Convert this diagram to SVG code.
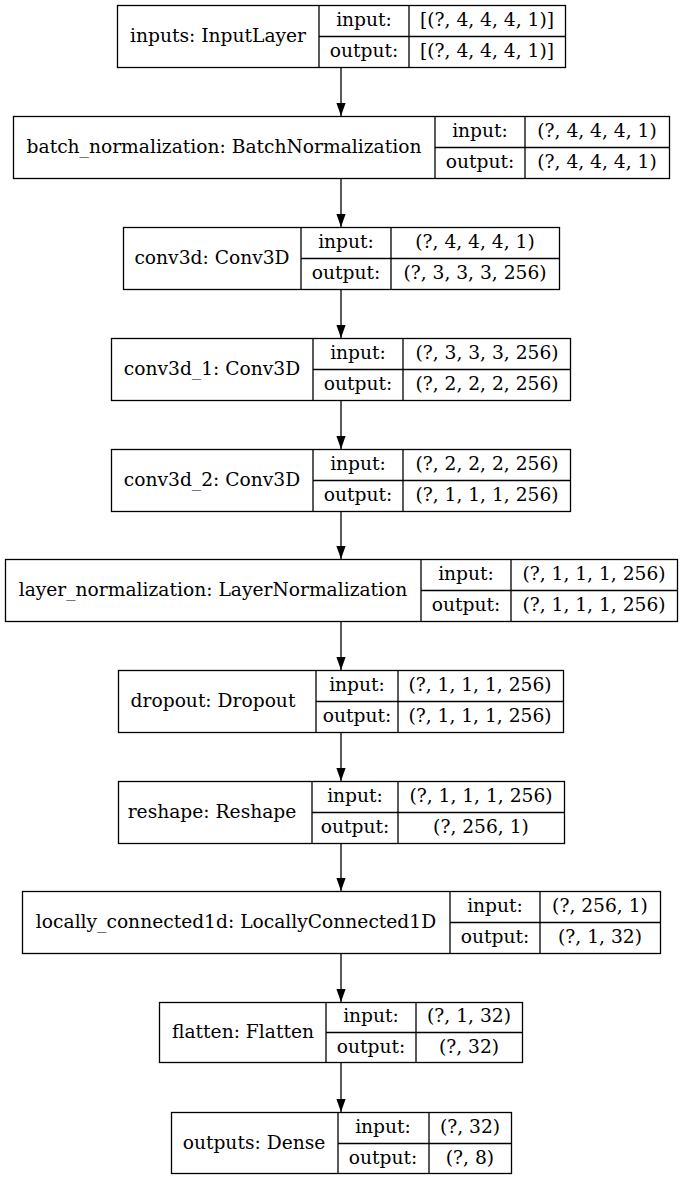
<svg xmlns="http://www.w3.org/2000/svg" width="683" height="1180" viewBox="0 0 683 1180">
<style>
rect.b{fill:none;stroke:#000;stroke-width:1.3}
line.d{stroke:#000;stroke-width:1.3}
text{font-family:"DejaVu Serif","Liberation Serif",serif;font-size:18.67px;fill:#000;text-anchor:middle}
.e line{stroke:#000;stroke-width:1.3}
</style>
<defs>
<marker id="ah" markerWidth="14" markerHeight="10" refX="13" refY="5" orient="auto" markerUnits="userSpaceOnUse">
<path d="M0,0.4 L13,5 L0,9.6 Z" fill="#000"/>
</marker>
</defs>
<rect width="683" height="1180" fill="#fff"/>
<g class="e">
<line x1="341" y1="67" x2="341" y2="116" marker-end="url(#ah)"/>
<line x1="341" y1="178" x2="341" y2="227" marker-end="url(#ah)"/>
<line x1="341" y1="289" x2="341" y2="338" marker-end="url(#ah)"/>
<line x1="341" y1="400" x2="341" y2="449" marker-end="url(#ah)"/>
<line x1="341" y1="511" x2="341" y2="559" marker-end="url(#ah)"/>
<line x1="341" y1="621" x2="341" y2="670" marker-end="url(#ah)"/>
<line x1="341" y1="732" x2="341" y2="781" marker-end="url(#ah)"/>
<line x1="341" y1="843" x2="341" y2="891" marker-end="url(#ah)"/>
<line x1="341" y1="953" x2="341" y2="1002" marker-end="url(#ah)"/>
<line x1="341" y1="1063" x2="341" y2="1112" marker-end="url(#ah)"/>
</g>
<g id="n1">
<rect class="b" x="117.5" y="5.5" width="448" height="62"/>
<line class="d" x1="319" y1="5.5" x2="319" y2="67.5"/><line class="d" x1="409" y1="5.5" x2="409" y2="67.5"/><line class="d" x1="319" y1="36.5" x2="565.5" y2="36.5"/>
<text x="218" y="41.5">inputs: InputLayer</text>
<text x="364" y="25.5">input:</text><text x="364" y="56.5">output:</text>
<text x="487" y="25.5">[(?, 4, 4, 4, 1)]</text><text x="487" y="56.5">[(?, 4, 4, 4, 1)]</text>
</g>
<g id="n2">
<rect class="b" x="13.5" y="116.5" width="656" height="62"/>
<line class="d" x1="435" y1="116.5" x2="435" y2="178.5"/><line class="d" x1="525" y1="116.5" x2="525" y2="178.5"/><line class="d" x1="435" y1="147.5" x2="669.5" y2="147.5"/>
<text x="224" y="152.5">batch_normalization: BatchNormalization</text>
<text x="480" y="136.5">input:</text><text x="480" y="167.5">output:</text>
<text x="597" y="136.5">(?, 4, 4, 4, 1)</text><text x="597" y="167.5">(?, 4, 4, 4, 1)</text>
</g>
<g id="n3">
<rect class="b" x="123.5" y="227.5" width="436" height="62"/>
<line class="d" x1="301" y1="227.5" x2="301" y2="289.5"/><line class="d" x1="391" y1="227.5" x2="391" y2="289.5"/><line class="d" x1="301" y1="258.5" x2="559.5" y2="258.5"/>
<text x="212" y="263.5">conv3d: Conv3D</text>
<text x="346" y="247.5">input:</text><text x="346" y="278.5">output:</text>
<text x="475" y="247.5">(?, 4, 4, 4, 1)</text><text x="475" y="278.5">(?, 3, 3, 3, 256)</text>
</g>
<g id="n4">
<rect class="b" x="111.5" y="338.5" width="459" height="62"/>
<line class="d" x1="313" y1="338.5" x2="313" y2="400.5"/><line class="d" x1="403" y1="338.5" x2="403" y2="400.5"/><line class="d" x1="313" y1="369.5" x2="570.5" y2="369.5"/>
<text x="212" y="374.5">conv3d_1: Conv3D</text>
<text x="358" y="358.5">input:</text><text x="358" y="389.5">output:</text>
<text x="487" y="358.5">(?, 3, 3, 3, 256)</text><text x="487" y="389.5">(?, 2, 2, 2, 256)</text>
</g>
<g id="n5">
<rect class="b" x="111.5" y="449.5" width="459" height="62"/>
<line class="d" x1="313" y1="449.5" x2="313" y2="511.5"/><line class="d" x1="403" y1="449.5" x2="403" y2="511.5"/><line class="d" x1="313" y1="480.5" x2="570.5" y2="480.5"/>
<text x="212" y="485.5">conv3d_2: Conv3D</text>
<text x="358" y="469.5">input:</text><text x="358" y="500.5">output:</text>
<text x="487" y="469.5">(?, 2, 2, 2, 256)</text><text x="487" y="500.5">(?, 1, 1, 1, 256)</text>
</g>
<g id="n6">
<rect class="b" x="5.5" y="559.5" width="672" height="62"/>
<line class="d" x1="421" y1="559.5" x2="421" y2="621.5"/><line class="d" x1="511" y1="559.5" x2="511" y2="621.5"/><line class="d" x1="421" y1="590.5" x2="677.5" y2="590.5"/>
<text x="213" y="595.5">layer_normalization: LayerNormalization</text>
<text x="466" y="579.5">input:</text><text x="466" y="610.5">output:</text>
<text x="594" y="579.5">(?, 1, 1, 1, 256)</text><text x="594" y="610.5">(?, 1, 1, 1, 256)</text>
</g>
<g id="n7">
<rect class="b" x="118.5" y="670.5" width="445" height="62"/>
<line class="d" x1="316" y1="670.5" x2="316" y2="732.5"/><line class="d" x1="398" y1="670.5" x2="398" y2="732.5"/><line class="d" x1="316" y1="701.5" x2="563.5" y2="701.5"/>
<text x="213" y="706.5">dropout: Dropout</text>
<text x="357" y="690.5">input:</text><text x="357" y="721.5">output:</text>
<text x="480" y="690.5">(?, 1, 1, 1, 256)</text><text x="480" y="721.5">(?, 1, 1, 1, 256)</text>
</g>
<g id="n8">
<rect class="b" x="118.5" y="781.5" width="446" height="62"/>
<line class="d" x1="312" y1="781.5" x2="312" y2="843.5"/><line class="d" x1="398" y1="781.5" x2="398" y2="843.5"/><line class="d" x1="312" y1="812.5" x2="564.5" y2="812.5"/>
<text x="212" y="817.5">reshape: Reshape</text>
<text x="355" y="801.5">input:</text><text x="355" y="832.5">output:</text>
<text x="481" y="801.5">(?, 1, 1, 1, 256)</text><text x="481" y="832.5">(?, 256, 1)</text>
</g>
<g id="n9">
<rect class="b" x="22.5" y="891.5" width="638" height="62"/>
<line class="d" x1="450" y1="891.5" x2="450" y2="953.5"/><line class="d" x1="540" y1="891.5" x2="540" y2="953.5"/><line class="d" x1="450" y1="922.5" x2="660.5" y2="922.5"/>
<text x="236" y="927.5">locally_connected1d: LocallyConnected1D</text>
<text x="495" y="911.5">input:</text><text x="495" y="942.5">output:</text>
<text x="600" y="911.5">(?, 256, 1)</text><text x="600" y="942.5">(?, 1, 32)</text>
</g>
<g id="n10">
<rect class="b" x="159.5" y="1002.5" width="363" height="60"/>
<line class="d" x1="326" y1="1002.5" x2="326" y2="1062.5"/><line class="d" x1="416" y1="1002.5" x2="416" y2="1062.5"/><line class="d" x1="326" y1="1032.5" x2="522.5" y2="1032.5"/>
<text x="243" y="1037.5">flatten: Flatten</text>
<text x="371" y="1021.5">input:</text><text x="371" y="1052.5">output:</text>
<text x="469" y="1021.5">(?, 1, 32)</text><text x="469" y="1052.5">(?, 32)</text>
</g>
<g id="n11">
<rect class="b" x="171.5" y="1112.5" width="340" height="61"/>
<line class="d" x1="338" y1="1112.5" x2="338" y2="1173.5"/><line class="d" x1="429" y1="1112.5" x2="429" y2="1173.5"/><line class="d" x1="338" y1="1143.5" x2="511.5" y2="1143.5"/>
<text x="254" y="1148.5">outputs: Dense</text>
<text x="383" y="1132.5">input:</text><text x="383" y="1163.5">output:</text>
<text x="470" y="1132.5">(?, 32)</text><text x="470" y="1163.5">(?, 8)</text>
</g>
</svg>
